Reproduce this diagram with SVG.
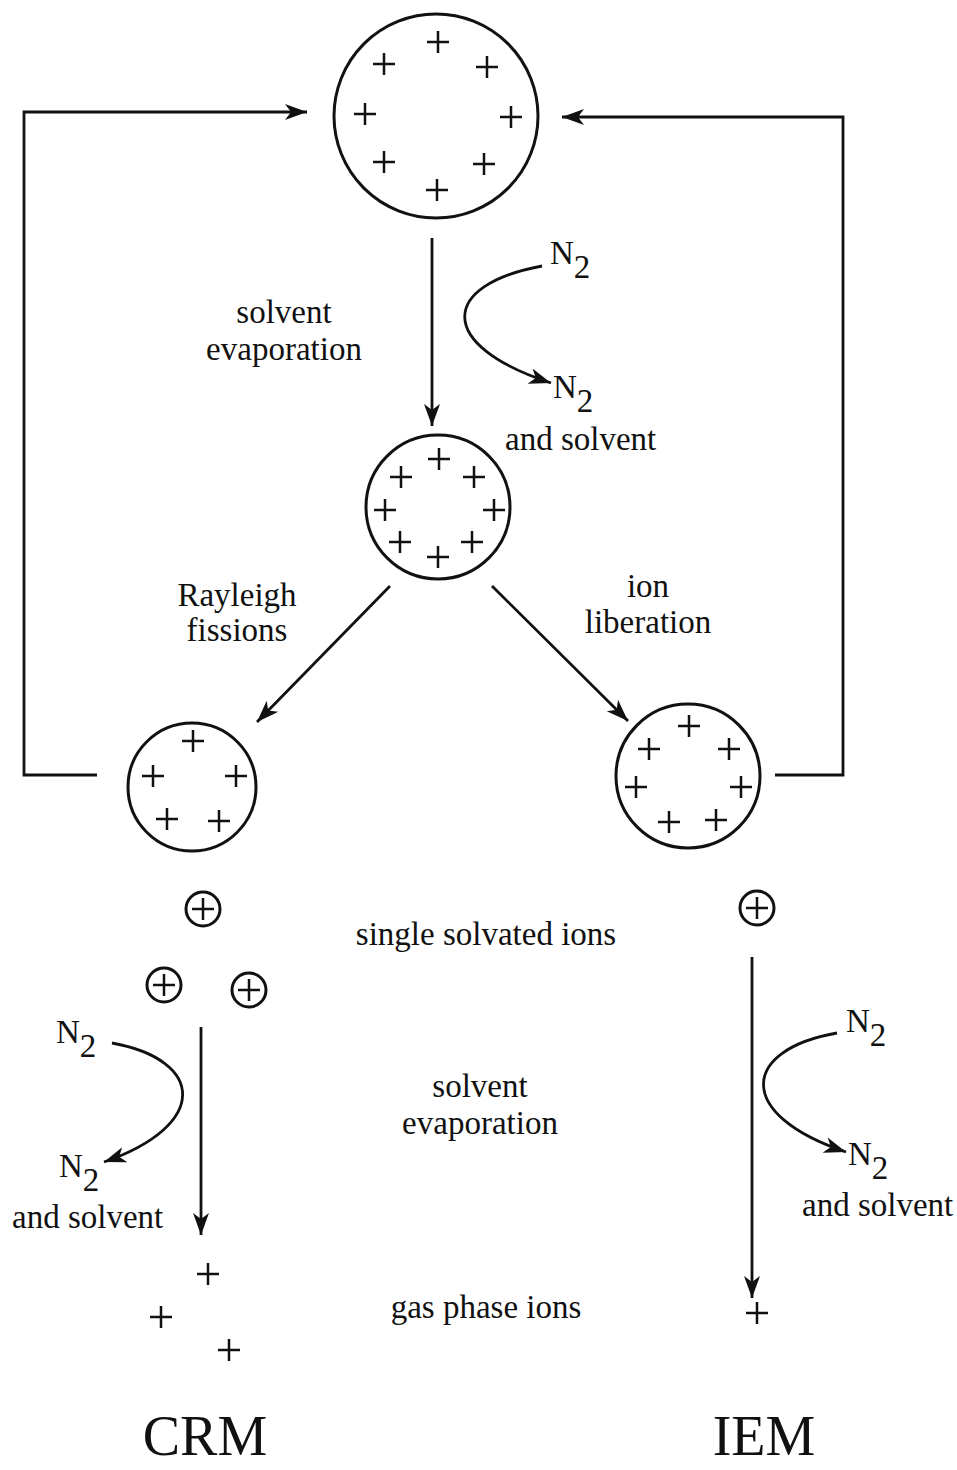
<svg xmlns="http://www.w3.org/2000/svg" width="957" height="1470" viewBox="0 0 957 1470">
<style>
.t{font-family:"Liberation Serif","Times New Roman",serif;font-size:33px;fill:#111}
.big{font-size:56px}
.c{text-anchor:middle}
.ring{fill:none;stroke:#111;stroke-width:3}
.p{stroke:#111;stroke-width:2.5;fill:none}
.ln{stroke:#111;stroke-width:2.8;fill:none}
</style>
<defs>
<marker id="ah" markerUnits="userSpaceOnUse" markerWidth="24" markerHeight="18" refX="22" refY="8" orient="auto">
<path d="M0,0 L22,8 L0,16 L6,8 z" fill="#111"/>
</marker>
<path id="plus" d="M-11,0 H11 M0,-11 V11"/>
</defs>
<g id="connectors">
<polyline class="ln" points="97,775 24,775 24,112 307,112" marker-end="url(#ah)"/>
<polyline class="ln" points="775,775 843,775 843,117 562,117" marker-end="url(#ah)"/>
<line class="ln" x1="432" y1="238" x2="432" y2="426" marker-end="url(#ah)"/>
<line class="ln" x1="390" y1="586" x2="257" y2="722" marker-end="url(#ah)"/>
<line class="ln" x1="492" y1="586" x2="628" y2="721" marker-end="url(#ah)"/>
<line class="ln" x1="201" y1="1027" x2="201" y2="1235" marker-end="url(#ah)"/>
<line class="ln" x1="752" y1="957" x2="752" y2="1298" marker-end="url(#ah)"/>
<path class="ln" d="M542,266 C440,285 435,345 551,383" marker-end="url(#ah)"/>
<path class="ln" d="M112,1043 C205,1060 210,1125 104,1162" marker-end="url(#ah)"/>
<path class="ln" d="M837,1033 C740,1050 735,1115 846,1152" marker-end="url(#ah)"/>
</g>
<g id="droplet-top">
<circle class="ring" cx="436" cy="116" r="102"/>
<g class="p">
<use href="#plus" x="438" y="42"/><use href="#plus" x="384" y="64"/><use href="#plus" x="487" y="67"/>
<use href="#plus" x="365" y="114"/><use href="#plus" x="511" y="117"/><use href="#plus" x="384" y="162"/>
<use href="#plus" x="484" y="164"/><use href="#plus" x="437" y="190"/>
</g>
</g>
<g id="droplet-middle">
<circle class="ring" cx="438" cy="507" r="72"/>
<g class="p">
<use href="#plus" x="439" y="459"/><use href="#plus" x="401" y="477"/><use href="#plus" x="474" y="477"/>
<use href="#plus" x="385" y="510"/><use href="#plus" x="494" y="510"/><use href="#plus" x="400" y="542"/>
<use href="#plus" x="472" y="542"/><use href="#plus" x="438" y="557"/>
</g>
</g>
<g id="droplet-left">
<circle class="ring" cx="192" cy="787" r="64"/>
<g class="p">
<use href="#plus" x="193" y="741"/><use href="#plus" x="153" y="776"/><use href="#plus" x="236" y="776"/>
<use href="#plus" x="167" y="819"/><use href="#plus" x="219" y="821"/>
</g>
</g>
<g id="droplet-right">
<circle class="ring" cx="688" cy="776" r="72"/>
<g class="p">
<use href="#plus" x="689" y="726"/><use href="#plus" x="649" y="749"/><use href="#plus" x="729" y="749"/>
<use href="#plus" x="636" y="787"/><use href="#plus" x="741" y="787"/><use href="#plus" x="669" y="822"/>
<use href="#plus" x="716" y="820"/>
</g>
</g>
<g id="solvated-ions-left">
<circle class="ring" cx="203" cy="909" r="17"/><use class="p" href="#plus" x="203" y="909"/>
<circle class="ring" cx="164" cy="985" r="17"/><use class="p" href="#plus" x="164" y="985"/>
<circle class="ring" cx="249" cy="990" r="17"/><use class="p" href="#plus" x="249" y="990"/>
</g>
<g id="solvated-ion-right">
<circle class="ring" cx="757" cy="908" r="17"/><use class="p" href="#plus" x="757" y="908"/>
</g>
<g id="gas-ions-left" class="p">
<use href="#plus" x="208" y="1274"/><use href="#plus" x="161" y="1317"/><use href="#plus" x="229" y="1350"/>
</g>
<g id="gas-ion-right" class="p">
<use href="#plus" x="757" y="1313"/>
</g>
<g id="labels">
<text class="t c" x="284" y="323">solvent</text>
<text class="t c" x="284" y="360">evaporation</text>
<text class="t" x="550" y="264">N<tspan dy="14">2</tspan></text>
<text class="t" x="553" y="398">N<tspan dy="14">2</tspan></text>
<text class="t" x="505" y="450">and solvent</text>
<text class="t c" x="237" y="606">Rayleigh</text>
<text class="t c" x="237" y="641">fissions</text>
<text class="t c" x="648" y="597">ion</text>
<text class="t c" x="648" y="633">liberation</text>
<text class="t c" x="486" y="945">single solvated ions</text>
<text class="t" x="56" y="1043">N<tspan dy="14">2</tspan></text>
<text class="t" x="59" y="1177">N<tspan dy="14">2</tspan></text>
<text class="t" x="12" y="1228">and solvent</text>
<text class="t c" x="480" y="1097">solvent</text>
<text class="t c" x="480" y="1134">evaporation</text>
<text class="t" x="846" y="1032">N<tspan dy="14">2</tspan></text>
<text class="t" x="848" y="1165">N<tspan dy="14">2</tspan></text>
<text class="t" x="802" y="1216">and solvent</text>
<text class="t c" x="486" y="1318">gas phase ions</text>
<text class="t big c" x="205" y="1455">CRM</text>
<text class="t big c" x="764" y="1455">IEM</text>
</g>
</svg>
